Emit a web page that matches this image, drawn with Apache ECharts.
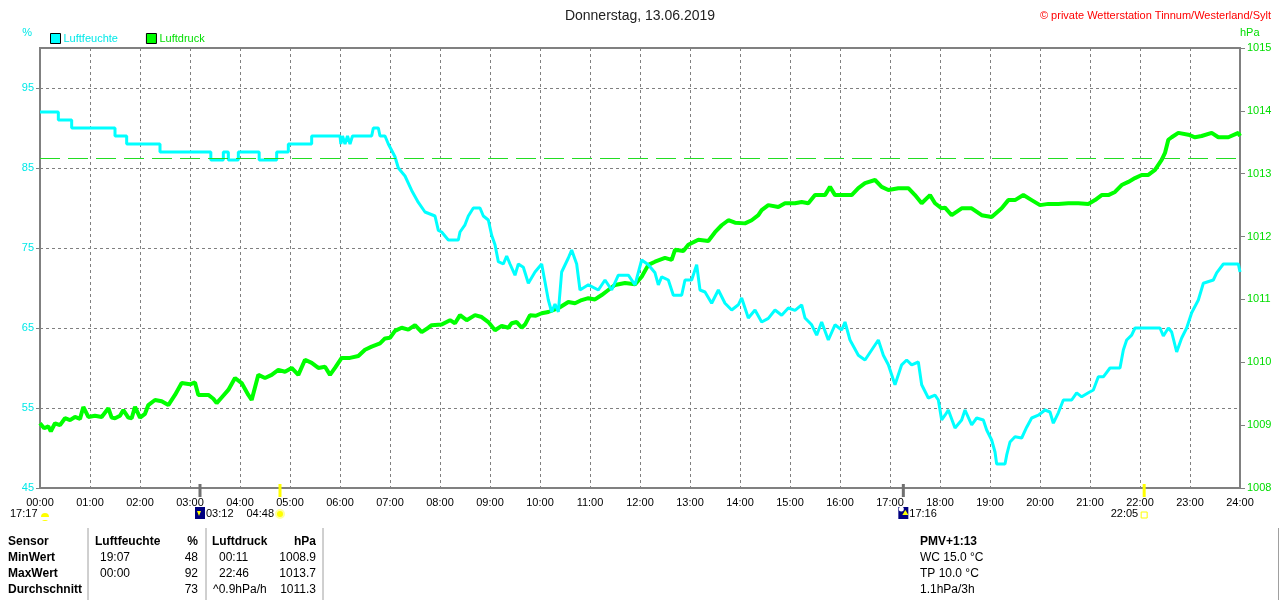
<!DOCTYPE html>
<html><head><meta charset="utf-8">
<script src="https://cdn.jsdelivr.net/npm/echarts@6/dist/echarts.min.js"></script>
<style>html,body{margin:0;padding:0;background:#fff}#c{width:1280px;height:600px}</style>
</head><body><div id="c"></div>
<script>
// x: minutes after midnight
const hourLabels = ['00:00','01:00','02:00','03:00','04:00','05:00','06:00','07:00','08:00','09:00','10:00','11:00','12:00','13:00','14:00','15:00','16:00','17:00','18:00','19:00','20:00','21:00','22:00','23:00','24:00'];
const humidity = [[0,92],[22,92],[22,91],[38,91],[38,90],[90,90],[90,89],[104,89],[104,88],[144,88],[144,87],[205,87],[205,86],[220,86],[220,87],[226,87],[226,86],[238,86],[238,87],[263,87],[263,86],[284,86],[284,87],[298,87],[298,88],[326,88],[326,89],[360,89],[361,88],[363,89],[366,88],[369,89],[372,88],[375,89],[398,89],[400,90],[406,90],[408,89],[414,89],
[418,88],[426,86.4],[430,85],[438,84],[446,82.2],[454,80.7],[462,79.5],[474,79],[478,77.2],[482,77],[490,76],[502,76],[504,77],[510,77.9],[514,79],[520,80],[528,80],[532,79],[538,78.5],[542,76.6],[546,75.4],[550,73.3],[556,73],[560,74],[564,73],[570,71.6],[574,73],[580,72.6],[586,70.6],[594,72],[602,73],[610,68.5],[614,67],[618,68],[622,67],[626,72],[634,73.75],[638,74.75],[644,73],[648,69.75],[658,70.4],[670,69.75],[678,71],[686,69.75],[694,71.6],[706,71.6],[714,70.4],[722,73.5],[730,72.9],[738,71.9],[742,70.4],[746,71.4],[754,71],[760,69.1],[770,69.1],[774,71],[782,71],[788,72.9],[792,69.75],[798,69.5],[806,68.1],[814,69.75],[822,68.1],[830,67.25],[838,67.9],[842,68.75],[850,66.25],[858,67.25],[866,65.75],[874,66.2],[882,67.25],[890,66.6],[898,67.5],[906,67.2],[914,67.9],[918,66.25],[926,65.4],[932,64.1],[938,65.75],[946,63.5],[954,65.4],[962,64.75],[966,65.75],[972,63.5],[982,61.6],[990,61],[998,62.25],[1006,63.5],[1012,61.6],[1018,60.4],[1026,57.9],[1034,60.4],[1040,61],[1046,60.4],[1054,60.75],[1058,57.9],[1066,56.25],[1074,56.6],[1078,56],[1082,53.5],[1086,54.1],[1090,54.75],[1098,52.5],[1106,53.5],[1110,54.75],[1118,52.9],[1124,53.75],[1132,53.5],[1136,52.25],[1142,51],[1146,49.5],[1148,48],[1158,48],[1160,49.1],[1164,50.75],[1170,51.4],[1178,51.25],[1184,52.6],[1190,53.75],[1198,54.1],[1206,54.75],[1212,54.5],[1216,53.1],[1222,54.4],[1228,56],[1238,56],[1244,56.9],[1250,56.4],[1258,56.9],[1264,57.25],[1270,58.9],[1276,58.9],[1284,60],[1296,60],[1300,62.25],[1304,63.5],[1310,64.1],[1314,65],[1344,65],[1348,64],[1354,65],[1358,64.5],[1364,62],[1370,63.75],[1376,65],[1382,66.9],[1390,68.5],[1396,70.6],[1408,71],[1412,71.9],[1420,73],[1438,73],[1440,72]];
const pressure = [[0,1009.03],[5,1008.95],[10,1008.98],[13,1008.9],[18,1009.03],[24,1009.0],[30,1009.11],[36,1009.08],[42,1009.13],[48,1009.1],[52,1009.29],[58,1009.13],[66,1009.15],[74,1009.13],[82,1009.27],[86,1009.12],[90,1009.11],[96,1009.15],[100,1009.24],[106,1009.12],[110,1009.11],[114,1009.29],[120,1009.12],[126,1009.18],[130,1009.32],[138,1009.4],[146,1009.38],[154,1009.32],[162,1009.48],[170,1009.67],[180,1009.65],[186,1009.68],[190,1009.48],[202,1009.48],[208,1009.42],[212,1009.35],[218,1009.44],[226,1009.56],[234,1009.75],[242,1009.67],[250,1009.48],[254,1009.4],[262,1009.8],[270,1009.75],[278,1009.8],[286,1009.88],[294,1009.85],[302,1009.91],[310,1009.8],[318,1010.04],[326,1009.99],[334,1009.91],[342,1009.93],[348,1009.8],[354,1009.91],[362,1010.07],[372,1010.07],[382,1010.1],[390,1010.2],[398,1010.25],[408,1010.3],[414,1010.38],[420,1010.39],[426,1010.5],[434,1010.55],[442,1010.52],[450,1010.59],[458,1010.48],[466,1010.55],[470,1010.59],[482,1010.6],[492,1010.67],[498,1010.62],[504,1010.75],[512,1010.67],[522,1010.75],[530,1010.72],[538,1010.64],[546,1010.51],[554,1010.58],[562,1010.55],[566,1010.62],[572,1010.64],[578,1010.55],[582,1010.6],[588,1010.75],[595,1010.74],[602,1010.78],[610,1010.8],[622,1010.86],[634,1010.96],[642,1010.94],[650,1010.99],[658,1011.02],[666,1011.0],[674,1011.07],[682,1011.15],[690,1011.23],[702,1011.26],[714,1011.24],[722,1011.36],[730,1011.55],[738,1011.6],[750,1011.66],[758,1011.63],[762,1011.79],[772,1011.77],[778,1011.87],[790,1011.95],[802,1011.93],[810,1012.07],[818,1012.18],[826,1012.26],[834,1012.22],[846,1012.21],[854,1012.26],[862,1012.34],[866,1012.42],[874,1012.5],[886,1012.47],[894,1012.53],[906,1012.53],[914,1012.55],[922,1012.53],[930,1012.66],[942,1012.66],[948,1012.79],[954,1012.66],[962,1012.66],[974,1012.66],[982,1012.77],[990,1012.85],[1002,1012.9],[1010,1012.79],[1018,1012.74],[1030,1012.77],[1042,1012.77],[1050,1012.66],[1058,1012.53],[1068,1012.66],[1074,1012.53],[1082,1012.45],[1086,1012.46],[1094,1012.34],[1106,1012.45],[1118,1012.45],[1130,1012.34],[1142,1012.31],[1154,1012.45],[1162,1012.58],[1170,1012.58],[1180,1012.66],[1190,1012.58],[1200,1012.5],[1210,1012.52],[1222,1012.52],[1234,1012.53],[1246,1012.53],[1258,1012.52],[1266,1012.58],[1274,1012.66],[1282,1012.66],[1290,1012.71],[1298,1012.82],[1306,1012.87],[1314,1012.93],[1322,1012.98],[1330,1012.98],[1338,1013.06],[1346,1013.22],[1350,1013.33],[1354,1013.54],[1358,1013.58],[1366,1013.65],[1378,1013.62],[1386,1013.58],[1394,1013.6],[1406,1013.65],[1414,1013.58],[1426,1013.58],[1438,1013.65],[1440,1013.6]];
const refPressure = 1013.25;
const events = [
  {min:192, label:'03:12', kind:'moonrise'},
  {min:288, label:'04:48', kind:'sunrise'},
  {min:1036, label:'17:16', kind:'moonset'},
  {min:1325, label:'22:05', kind:'sunset'}
];
const tableRows = [
  ['Sensor','Luftfeuchte','%','Luftdruck','hPa'],
  ['MinWert','19:07','48','00:11','1008.9'],
  ['MaxWert','00:00','92','22:46','1013.7'],
  ['Durchschnitt','','73','^0.9hPa/h','1011.3']
];
const extraInfo = ['PMV+1:13','WC 15.0 °C','TP 10.0 °C','1.1hPa/3h'];

const FONT = '"Liberation Sans", Arial, sans-serif';
const chart = echarts.init(document.getElementById('c'));
const gridDash = {color:'#808080', type:[3,3], width:1};
chart.setOption({
  animation:false,
  textStyle:{fontFamily:FONT},
  title:[
    {text:'Donnerstag, 13.06.2019', left:'center', top:4, textStyle:{fontSize:14, fontWeight:'normal', color:'#222', fontFamily:FONT}},
    {text:'© private Wetterstation Tinnum/Westerland/Sylt', right:4, top:5, textStyle:{fontSize:11, fontWeight:'normal', color:'#ff0000', fontFamily:FONT}}
  ],
  legend:{
    left:45, top:28, itemWidth:10, itemHeight:10, itemGap:28, icon:'rect',
    textStyle:{fontSize:11, fontFamily:FONT, padding:[0,0,0,-2]},
    data:[
      {name:'Luftfeuchte', itemStyle:{color:'#00ffff', borderColor:'#000', borderWidth:1}, textStyle:{color:'#00e8e8'}},
      {name:'Luftdruck', itemStyle:{color:'#00ff00', borderColor:'#000', borderWidth:1}, textStyle:{color:'#00dd00'}}
    ]
  },
  grid:{left:40, right:40, top:48, bottom:112, show:true, borderColor:'#808080', borderWidth:2},
  xAxis:{
    type:'value', min:0, max:1440, interval:60,
    axisLine:{show:false}, axisTick:{show:false},
    axisLabel:{color:'#000', fontSize:11, margin:9, fontFamily:FONT, formatter:v=>hourLabels[Math.round(v/60)]},
    splitLine:{show:true, lineStyle:gridDash}
  },
  yAxis:[
    {type:'value', min:45, max:100, interval:10, position:'left',
     axisLine:{show:false}, axisTick:{show:true, length:4, lineStyle:{color:'#808080'}},
     axisLabel:{color:'#00e8e8', fontSize:11, margin:6, showMaxLabel:false, fontFamily:FONT},
     splitLine:{show:true, lineStyle:gridDash},
     name:'%', nameLocation:'end', nameGap:10, nameTextStyle:{color:'#00e8e8', fontSize:11, align:'right', padding:[0,8,0,0]}},
    {type:'value', min:1008, max:1015, interval:1, position:'right',
     axisLine:{show:false}, axisTick:{show:true, length:5, lineStyle:{color:'#808080'}},
     axisLabel:{color:'#00dd00', fontSize:11, margin:7, fontFamily:FONT, formatter:v=>String(v)},
     splitLine:{show:false},
     name:'hPa', nameLocation:'end', nameGap:10, nameTextStyle:{color:'#00dd00', fontSize:11, align:'left', padding:[0,0,0,0]}}
  ],
  series:[
    {name:'Luftdruck', type:'line', yAxisIndex:1, data:pressure, showSymbol:false,
     lineStyle:{color:'#00ff00', width:4}, itemStyle:{color:'#00ff00'},
     markLine:{silent:true, symbol:'none', label:{show:false},
       lineStyle:{color:'#22dd22', type:[20,8], width:1},
       data:[{yAxis:refPressure}]}},
    {name:'Luftfeuchte', type:'line', yAxisIndex:0, data:humidity, showSymbol:false,
     lineStyle:{color:'#00ffff', width:3}, itemStyle:{color:'#00ffff'}}
  ]
});

// decorations: sun/moon markers and summary table
const gx = m => chart.convertToPixel({xAxisIndex:0}, m);
const axisY = chart.convertToPixel({yAxisIndex:0}, 45);
const g = [];
const txt = (x,y,t,opt={}) => g.push({type:'text', x, y, style:Object.assign({text:t, fill:'#000', font:(opt.bold?'bold ':'')+(opt.size||12)+'px '+FONT, textAlign:opt.align||'left', textVerticalAlign:'middle'}, opt.style||{}) , z:10});
// first label (moon from previous day)
txt(10, axisY+26, '17:17', {size:11});
g.push({type:'circle', shape:{cx:45, cy:axisY+29, r:4}, style:{fill:'#ffff00'}, z:10});
g.push({type:'rect', shape:{x:39, y:axisY+29, width:12, height:3}, style:{fill:'#fff'}, z:11});
events.forEach(e=>{
  const x = gx(e.min);
  const isSun = e.kind.startsWith('sun');
  g.push({type:'line', shape:{x1:x, y1:axisY-4, x2:x, y2:axisY+9}, style:{stroke:isSun?'#ffff00':'#707070', lineWidth:3}, z:10});
  if (e.kind==='moonrise') {
    g.push({type:'rect', shape:{x:x-5, y:axisY+19, width:10, height:12}, style:{fill:'#000080'}, z:10});
    g.push({type:'polygon', shape:{points:[[x-3,axisY+23],[x+1,axisY+23],[x-1,axisY+28]]}, style:{fill:'#ffff00'}, z:11});
    txt(x+6, axisY+26, e.label, {size:11});
  } else if (e.kind==='moonset') {
    g.push({type:'rect', shape:{x:x-5, y:axisY+19, width:10, height:12}, style:{fill:'#000080'}, z:10});
    g.push({type:'circle', shape:{cx:x-2, cy:axisY+21, r:2.5}, style:{fill:'#fff'}, z:11});
    g.push({type:'polygon', shape:{points:[[x+2,axisY+22],[x-1,axisY+27],[x+5,axisY+27]]}, style:{fill:'#ffff00'}, z:11});
    txt(x+6, axisY+26, e.label, {size:11});
  } else if (e.kind==='sunrise') {
    g.push({type:'circle', shape:{cx:x, cy:axisY+26, r:4}, style:{fill:'#ffff00', stroke:'#ffffa0', lineWidth:2}, z:10});
    txt(x-6, axisY+26, e.label, {size:11, align:'right'});
  } else {
    g.push({type:'rect', shape:{x:x-3, y:axisY+24, width:6, height:6}, style:{fill:'#fff', stroke:'#ffff00', lineWidth:1}, z:10});
    txt(x-6, axisY+26, e.label, {size:11, align:'right'});
  }
});
// table separators
[88,206,323].forEach(x=>g.push({type:'line', shape:{x1:x, y1:528, x2:x, y2:600}, style:{stroke:'#a0a0a0', lineWidth:1}, z:10}));
g.push({type:'line', shape:{x1:1278.5, y1:528, x2:1278.5, y2:600}, style:{stroke:'#a0a0a0', lineWidth:1}, z:10});
const rowY = [542,558,574,590];
tableRows.forEach((r,i)=>{
  const head = i===0;
  txt(8, rowY[i], r[0], {bold:true});
  txt(head?95:100, rowY[i], r[1], {bold:head});
  txt(198, rowY[i], r[2], {bold:head, align:'right'});
  txt(head?212:(r[3].startsWith('^')?213:219), rowY[i], r[3], {bold:head});
  txt(316, rowY[i], r[4], {bold:head, align:'right'});
});
extraInfo.forEach((t,i)=>txt(920, rowY[i], t, {bold:i===0}));
chart.setOption({graphic:g});
</script></body></html>
